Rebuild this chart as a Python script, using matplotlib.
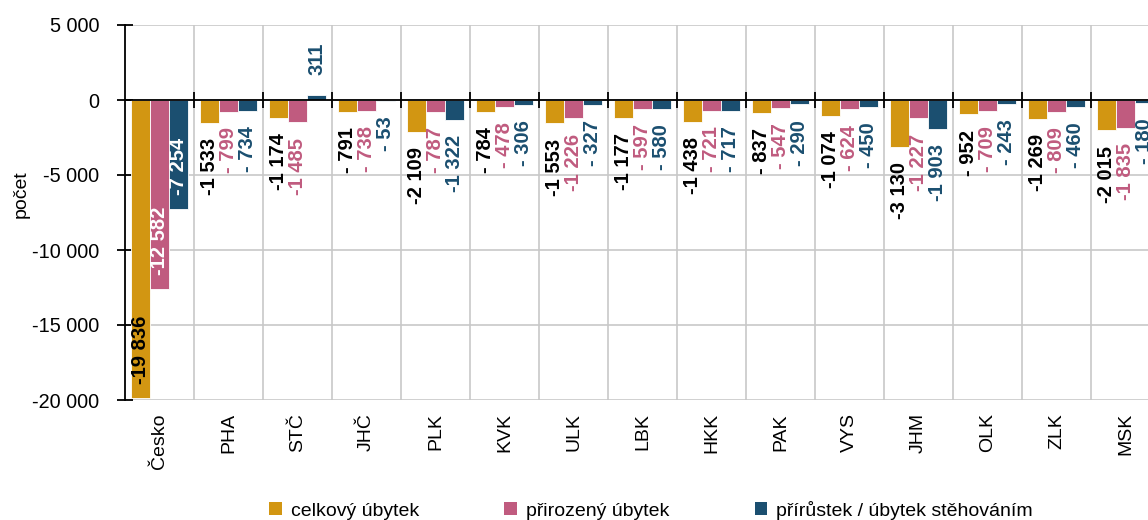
import matplotlib
matplotlib.use("Agg")
import matplotlib.pyplot as plt
import matplotlib.ticker as mticker
import numpy as np
from matplotlib.patches import Patch

plt.rcParams['font.family'] = ['Liberation Sans', 'DejaVu Sans']

kraje = ['Česko', 'PHA', 'STČ', 'JHČ', 'PLK', 'KVK', 'ULK', 'LBK', 'HKK',
         'PAK', 'VYS', 'JHM', 'OLK', 'ZLK', 'MSK']
celkovy = [-19836, -1533, -1174, -791, -2109, -784, -1553, -1177, -1438,
           -837, -1074, -3130, -952, -1269, -2015]
prirozeny = [-12582, -799, -1485, -738, -787, -478, -1226, -597, -721,
             -547, -624, -1227, -709, -809, -1835]
stehovani = [-7254, -734, 311, -53, -1322, -306, -327, -580, -717,
             -290, -450, -1903, -243, -460, -180]

serie = ['celkový úbytek', 'přirozený úbytek', 'přírůstek / úbytek stěhováním']
barvy = ['#D29612', '#C05B7F', '#1B4F70']
barvy_popisku = ['black', '#C05B7F', '#1B4F70']


def fmt(v):
    s = f"{abs(int(v)):,}".replace(",", " ")
    if v < 0:
        return ("- " if abs(v) < 1000 else "-") + s
    return s


fig = plt.figure(figsize=(11.48, 5.2), dpi=100)
ax = fig.add_axes([125 / 1148, 120 / 520, 1035 / 1148, 375 / 520])

x = np.arange(len(kraje))
w = 0.28
for i, (vals, c, lc, name) in enumerate(zip([celkovy, prirozeny, stehovani], barvy, barvy_popisku, serie)):
    pos = x + (i - 1) * w
    ax.bar(pos, vals, w, color=c, edgecolor='white', linewidth=0.6, label=name, zorder=3)
    for j, (p, v) in enumerate(zip(pos, vals)):
        if j == 0:
            # Česko - popisky uvnitř sloupce
            col = 'black' if i == 0 else 'white'
            ax.annotate(fmt(v), (p, v), xytext=(0, 10), textcoords='offset points',
                        rotation=90, ha='center', va='bottom', fontsize=14.5,
                        fontweight='bold', color=col, zorder=4)
        elif v < 0:
            ax.annotate(fmt(v), (p, v), xytext=(0, -11), textcoords='offset points',
                        rotation=90, ha='center', va='top', fontsize=14.5,
                        fontweight='bold', color=lc, zorder=4)
        else:
            ax.annotate(fmt(v), (p, v), xytext=(0, 15), textcoords='offset points',
                        rotation=90, ha='center', va='bottom', fontsize=14.5,
                        fontweight='bold', color=lc, zorder=4)

ax.set_xlim(-0.5, len(kraje) - 0.5)
ax.set_ylim(-20000, 5000)
ax.set_yticks(np.arange(-20000, 5001, 5000))
ax.yaxis.set_major_formatter(mticker.FuncFormatter(lambda v, p: f"{int(v):,}".replace(",", " ")))
ax.set_xticks(x)
ax.set_xticklabels(kraje, rotation=90)
ax.set_xticks(np.arange(0.5, len(kraje) - 0.5, 1), minor=True)
ax.tick_params(axis='x', which='both', length=0, labelsize=14, pad=9.5)
ax.tick_params(axis='y', direction='inout', length=11, width=1.3, labelsize=14.3, pad=13)
ax.grid(axis='y', color='#c8c8c8', lw=1.2, zorder=0)
ax.grid(axis='x', which='minor', color='#c8c8c8', lw=1.2, zorder=0)
for s in ['top', 'right', 'bottom']:
    ax.spines[s].set_visible(False)
ax.spines['left'].set_linewidth(1.3)
ax.set_ylabel('počet', fontsize=14, labelpad=2)
ax.yaxis.label.set_y(0.55)

# osa x na nule s dílky na hranicích kategorií
ax2 = ax.twiny()
ax2.set_xlim(ax.get_xlim())
ax2.spines['bottom'].set_position(('data', 0))
ax2.spines['bottom'].set_linewidth(1.3)
for s in ['top', 'right', 'left']:
    ax2.spines[s].set_visible(False)
ax2.xaxis.set_ticks_position('bottom')
ax2.set_xticks(np.arange(0.5, len(kraje) - 0.5, 1))
ax2.tick_params(axis='x', direction='inout', length=11, width=1.3, labelbottom=False, labeltop=False)
ax2.set_zorder(ax.get_zorder() + 1)
ax2.patch.set_visible(False)

handles = [Patch(facecolor=c, label=n) for c, n in zip(barvy, serie)]
fig.legend(handles=handles, loc='center', bbox_to_anchor=(651 / 1148, 10 / 520), ncol=3,
           frameon=False, fontsize=14, handlelength=0.65, handleheight=0.65,
           handletextpad=0.45, columnspacing=4.4)

fig.savefig('out.png', dpi=100)
